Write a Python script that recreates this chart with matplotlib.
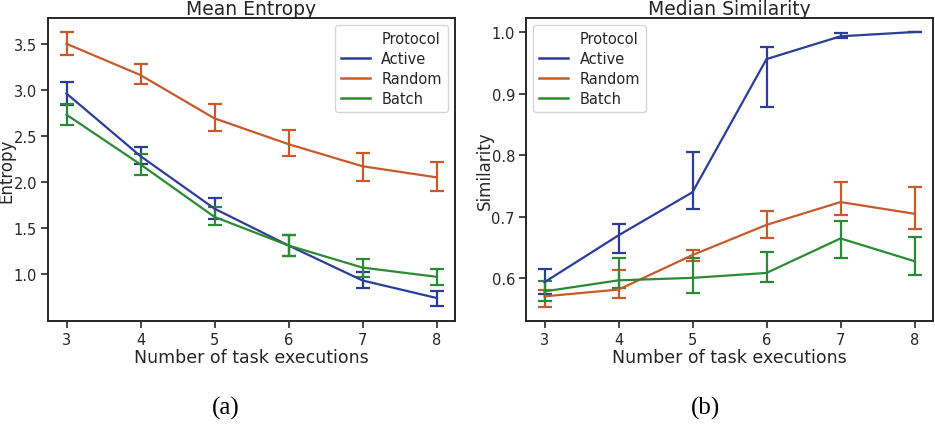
import numpy as np
import matplotlib
matplotlib.use('Agg')
import matplotlib.pyplot as plt
from matplotlib.lines import Line2D

# dados
execucoes = [3, 4, 5, 6, 7, 8]
protocolos = ['Active', 'Random', 'Batch']
cores = {'Active': '#2a3d98', 'Random': '#c65a2b', 'Batch': '#2b8a33'}

# Mean Entropy: media, limite inferior, limite superior
entropia_media = {
    'Active': [2.96, 2.28, 1.71, 1.31, 0.93, 0.74],
    'Random': [3.50, 3.16, 2.69, 2.41, 2.17, 2.05],
    'Batch':  [2.73, 2.19, 1.62, 1.31, 1.07, 0.97],
}
entropia_inf = {
    'Active': [2.84, 2.19, 1.60, 1.20, 0.85, 0.65],
    'Random': [3.38, 3.06, 2.55, 2.28, 2.01, 1.90],
    'Batch':  [2.62, 2.08, 1.53, 1.20, 0.97, 0.88],
}
entropia_sup = {
    'Active': [3.09, 2.38, 1.83, 1.42, 1.02, 0.82],
    'Random': [3.63, 3.28, 2.85, 2.56, 2.31, 2.22],
    'Batch':  [2.85, 2.30, 1.73, 1.42, 1.16, 1.06],
}

# Median Similarity
similaridade_med = {
    'Active': [0.594, 0.670, 0.740, 0.956, 0.993, 1.000],
    'Random': [0.571, 0.582, 0.638, 0.687, 0.724, 0.705],
    'Batch':  [0.579, 0.597, 0.601, 0.609, 0.665, 0.628],
}
similaridade_inf = {
    'Active': [0.575, 0.642, 0.713, 0.879, 0.990, 1.000],
    'Random': [0.553, 0.568, 0.628, 0.665, 0.703, 0.680],
    'Batch':  [0.564, 0.584, 0.576, 0.595, 0.633, 0.605],
}
similaridade_sup = {
    'Active': [0.615, 0.689, 0.805, 0.976, 0.998, 1.000],
    'Random': [0.582, 0.613, 0.647, 0.710, 0.757, 0.749],
    'Batch':  [0.596, 0.633, 0.634, 0.643, 0.693, 0.667],
}

cor_texto = '#262626'
plt.rcParams['font.family'] = 'DejaVu Sans'
plt.rcParams['text.color'] = cor_texto
plt.rcParams['axes.labelcolor'] = cor_texto
plt.rcParams['xtick.color'] = cor_texto
plt.rcParams['ytick.color'] = cor_texto
plt.rcParams['axes.edgecolor'] = cor_texto

fig = plt.figure(figsize=(9.35, 4.27), dpi=100)
ax1 = fig.add_axes([48 / 935, 1 - 322 / 427, 407 / 935, 303 / 427])
ax2 = fig.add_axes([526 / 935, 1 - 322 / 427, 407 / 935, 303 / 427])


def desenhar(ax, media, inf, sup, titulo, ylabel, ylim, yticks, loc):
    for p in protocolos:
        m = np.array(media[p])
        erro = [m - np.array(inf[p]), np.array(sup[p]) - m]
        ax.errorbar(execucoes, m, yerr=erro, color=cores[p], linewidth=1.6,
                    elinewidth=1.6, capsize=5, capthick=1.6)
    ax.set_xlim(2.75, 8.25)
    ax.set_ylim(*ylim)
    ax.set_xticks(execucoes)
    ax.set_yticks(yticks)
    ax.set_title(titulo, fontsize=13.5, pad=1)
    ax.set_xlabel('Number of task executions', fontsize=12.5, labelpad=1)
    ax.set_ylabel(ylabel, fontsize=12)
    ax.yaxis.set_label_coords(-0.080, 0.5)
    ax.tick_params(labelsize=10.5, length=5, width=1.2, pad=3)
    for s in ax.spines.values():
        s.set_linewidth(1.4)
    handles = [Line2D([], [], color='none')] + [Line2D([], [], color=cores[p], linewidth=1.8) for p in protocolos]
    labels = ['Protocol'] + protocolos
    ax.legend(handles, labels, loc=loc, fontsize=10.5, handlelength=2.0,
              borderpad=0.4, labelspacing=0.35, handletextpad=0.8)


desenhar(ax1, entropia_media, entropia_inf, entropia_sup, 'Mean Entropy', 'Entropy',
         (0.49, 3.78), [1.0, 1.5, 2.0, 2.5, 3.0, 3.5], 'upper right')
desenhar(ax2, similaridade_med, similaridade_inf, similaridade_sup, 'Median Similarity', 'Similarity',
         (0.531, 1.0227), [0.6, 0.7, 0.8, 0.9, 1.0], 'upper left')

fig.text(226 / 935, 1 - 408 / 427, '(a)', fontsize=18, family='Liberation Serif',
         ha='center', va='center', color='black')
fig.text(705 / 935, 1 - 408 / 427, '(b)', fontsize=18, family='Liberation Serif',
         ha='center', va='center', color='black')

fig.savefig('out.png', dpi=100)
